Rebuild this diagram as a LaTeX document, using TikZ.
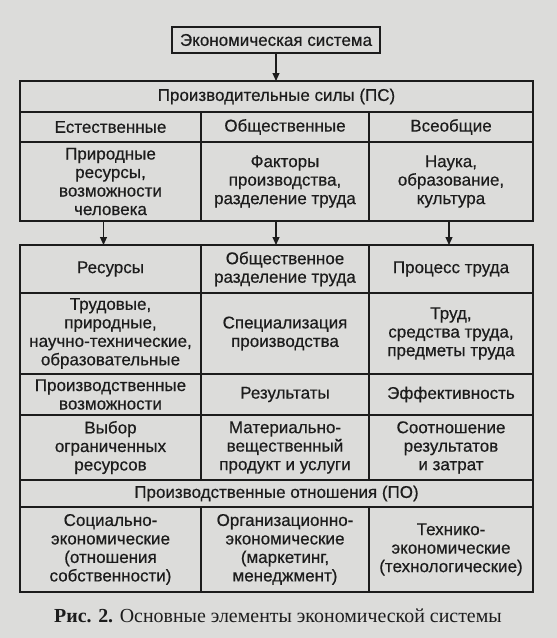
\documentclass[tikz,border=0pt]{standalone}
\usepackage{fontspec}
\setmainfont{Liberation Serif}
\newfontfamily\cellfont[FakeBold=0.5]{Liberation Sans}
\usetikzlibrary{arrows.meta}
\definecolor{paper}{RGB}{220,220,218}
\definecolor{ink}{RGB}{28,28,28}
\begin{document}
\begin{tikzpicture}[x=1pt,y=-1pt,
  cell/.style={draw=ink, text=ink, line width=1.3pt, inner sep=0pt, outer sep=0pt,
    align=center, anchor=north west, font=\cellfont\fontsize{17}{18.5}\selectfont},
  arr/.style={draw=ink, line width=1.2pt, -{Triangle[length=8pt,width=7pt]}}]
\fill[paper] (0,0) rectangle (557,638);
\useasboundingbox (0,0) rectangle (557,638);
% top box
\node[cell, minimum width=208pt, minimum height=26pt] (es) at (172,27) {Экономическая система};
% table 1
\node[cell, minimum width=513pt, minimum height=31pt] (ps) at (20,81) {Производительные силы (ПС)};
\node[cell, minimum width=181pt, minimum height=30pt] (nat) at (20,112) {Естественные};
\node[cell, minimum width=168pt, minimum height=30pt] (soc) at (201,112) {Общественные};
\node[cell, minimum width=164pt, minimum height=30pt] (uni) at (369,112) {Всеобщие};
\node[cell, minimum width=181pt, minimum height=79pt] (natd) at (20,142) {Природные\\ресурсы,\\возможности\\человека};
\node[cell, minimum width=168pt, minimum height=79pt] (socd) at (201,142) {Факторы\\производства,\\разделение труда};
\node[cell, minimum width=164pt, minimum height=79pt] (unid) at (369,142) {Наука,\\образование,\\культура};
% table 2
\node[cell, minimum width=181pt, minimum height=48pt] (res) at (20,245) {Ресурсы};
\node[cell, minimum width=168pt, minimum height=48pt] (div) at (201,245) {Общественное\\разделение труда};
\node[cell, minimum width=164pt, minimum height=48pt] (proc) at (369,245) {Процесс труда};
\node[cell, minimum width=181pt, minimum height=81pt] (resd) at (20,293) {Трудовые,\\природные,\\научно-технические,\\образовательные};
\node[cell, minimum width=168pt, minimum height=81pt] (divd) at (201,293) {Специализация\\производства};
\node[cell, minimum width=164pt, minimum height=81pt] (procd) at (369,293) {Труд,\\средства труда,\\предметы труда};
\node[cell, minimum width=181pt, minimum height=41pt] (pv) at (20,374) {Производственные\\возможности};
\node[cell, minimum width=168pt, minimum height=41pt] (rez) at (201,374) {Результаты};
\node[cell, minimum width=164pt, minimum height=41pt] (eff) at (369,374) {Эффективность};
\node[cell, minimum width=181pt, minimum height=65pt] (pvd) at (20,415) {Выбор\\ограниченных\\ресурсов};
\node[cell, minimum width=168pt, minimum height=65pt] (rezd) at (201,415) {Материально-\\вещественный\\продукт и услуги};
\node[cell, minimum width=164pt, minimum height=65pt] (effd) at (369,415) {Соотношение\\результатов\\и затрат};
\node[cell, minimum width=513pt, minimum height=27pt] (po) at (20,480) {Производственные отношения (ПО)};
\node[cell, minimum width=181pt, minimum height=85pt] (po1) at (20,507) {Социально-\\экономические\\(отношения\\собственности)};
\node[cell, minimum width=168pt, minimum height=85pt] (po2) at (201,507) {Организационно-\\экономические\\(маркетинг,\\менеджмент)};
\node[cell, minimum width=164pt, minimum height=85pt] (po3) at (369,507) {Технико-\\экономические\\(технологические)};
% arrows
\draw[arr] (es.south) -- (es.south |- ps.north);
\draw[arr] ([xshift=-7pt]natd.south) -- ([xshift=-7pt]natd.south |- res.north);
\draw[arr] ([xshift=-9pt]socd.south) -- ([xshift=-9pt]socd.south |- div.north);
\draw[arr] ([xshift=-2pt]unid.south) -- ([xshift=-2pt]unid.south |- proc.north);
% caption
\node[text=ink, font=\fontsize{19.9}{22}\selectfont] (cap) at (278,616) {\textbf{Рис. 2.} Основные элементы экономической системы};
\end{tikzpicture}
\end{document}
